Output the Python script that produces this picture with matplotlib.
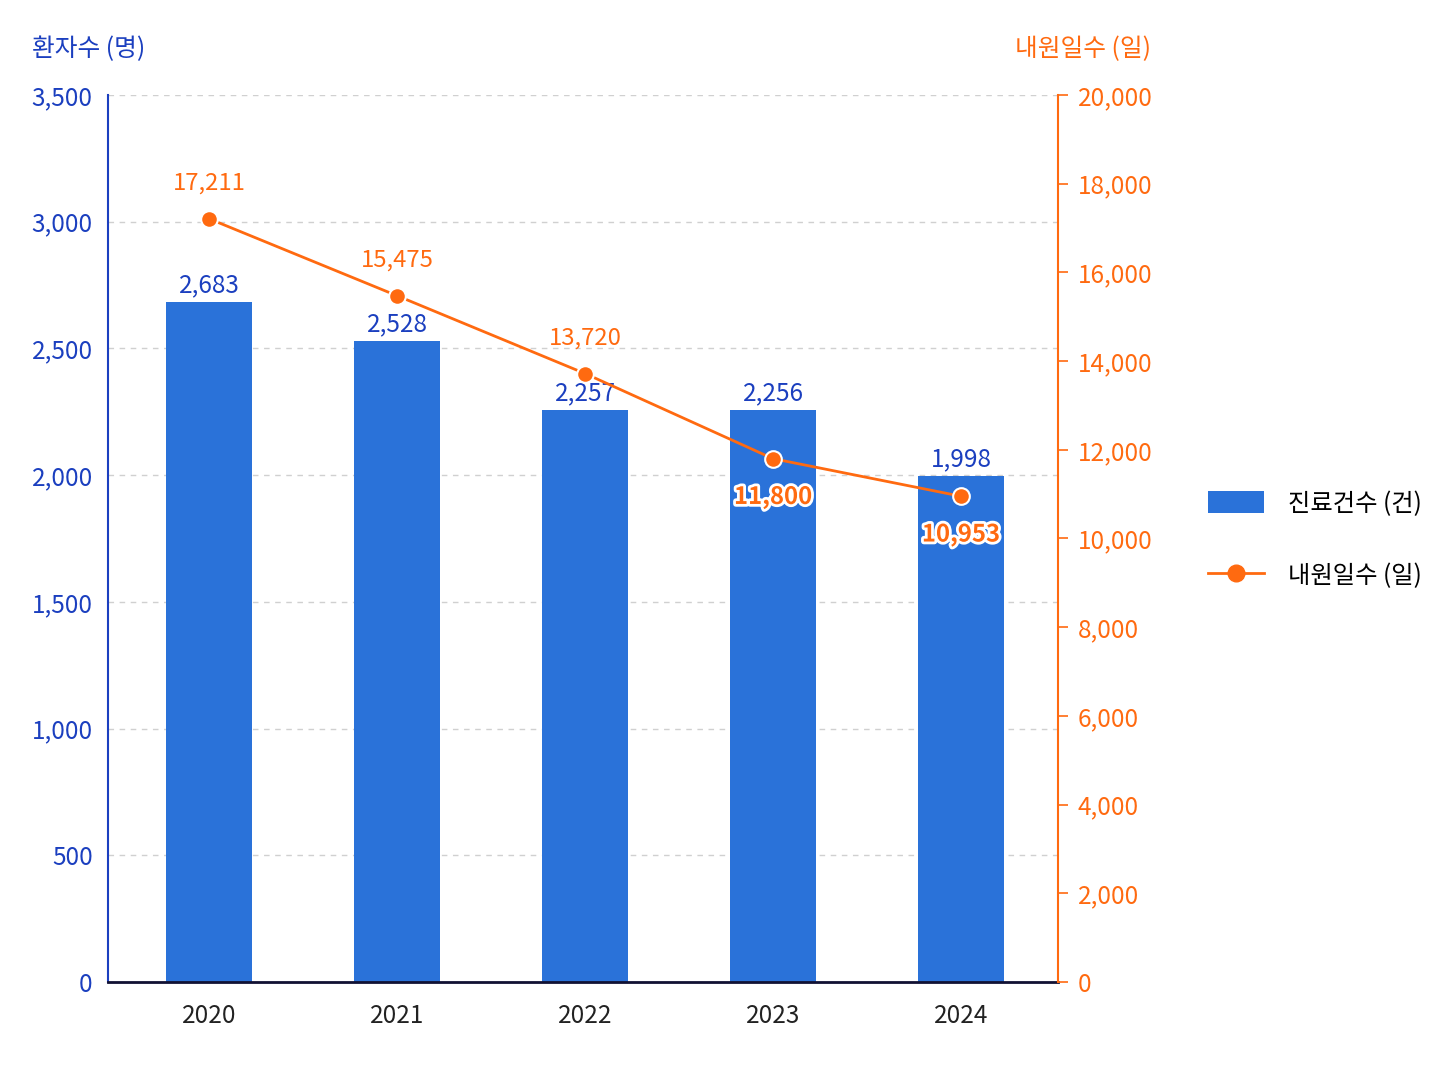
import matplotlib.pyplot as plt
import matplotlib.patheffects as pe
from matplotlib.lines import Line2D

plt.rcParams['font.family'] = ['Noto Sans CJK KR', 'DejaVu Sans']

years = ['2020', '2021', '2022', '2023', '2024']
cases = [2683, 2528, 2257, 2256, 1998]
days = [17211, 15475, 13720, 11800, 10953]

BLUE_BAR = '#2a72d9'
BLUE_TXT = '#1b3fbf'
ORANGE = '#ff6a10'

fig = plt.figure(figsize=(14.48, 10.86), dpi=100)
ax = fig.add_axes([0.0746, 0.0958, 0.6561, 0.8167])
ax2 = ax.twinx()

x = list(range(len(years)))
bars = ax.bar(x, cases, width=0.46, color=BLUE_BAR, zorder=2, label='진료건수 (건)')
ax.set_xlim(-0.537, 4.516)
ax.set_ylim(0, 3500)
ax.set_yticks(range(0, 3501, 500))
ax.set_yticklabels([f'{v:,}' for v in range(0, 3501, 500)])
ax.set_xticks(x)
ax.set_xticklabels(years)
ax.grid(axis='y', linestyle=(0, (4, 4)), color='#d0d0d0', linewidth=1)
ax.set_axisbelow(True)

for xi, v in zip(x, cases):
    ax.text(xi, v + 15, f'{v:,}', ha='center', va='bottom', color=BLUE_TXT, fontsize=17.5)

ax2.plot(x, days, color=ORANGE, linewidth=2, marker='o', markersize=12,
         markeredgecolor='white', markeredgewidth=1.5, zorder=5)
ax2.set_ylim(0, 20000)
ax2.set_yticks(range(0, 20001, 2000))
ax2.set_yticklabels([f'{v:,}' for v in range(0, 20001, 2000)])

for i, (xi, v) in enumerate(zip(x, days)):
    if i < 3:
        ax2.text(xi, v + 550, f'{v:,}', ha='center', va='bottom', color=ORANGE, fontsize=17.2)
    else:
        t = ax2.text(xi, v - 600, f'{v:,}', ha='center', va='top', color=ORANGE,
                     fontsize=17.2, fontweight='bold')
        t.set_path_effects([pe.withStroke(linewidth=4, foreground='white')])

ax.spines['top'].set_visible(False)
ax2.spines['top'].set_visible(False)
ax.spines['right'].set_visible(False)
ax2.spines['left'].set_visible(False)
ax2.spines['bottom'].set_visible(False)
ax.spines['left'].set_color(BLUE_TXT)
ax.spines['left'].set_linewidth(1.5)
ax2.spines['right'].set_color(ORANGE)
ax2.spines['right'].set_linewidth(1.5)
ax.spines['bottom'].set_color('#111133')
ax.spines['bottom'].set_linewidth(2)

ax.tick_params(axis='y', colors=BLUE_TXT, labelsize=17.5, length=0, pad=11)
ax.tick_params(axis='x', colors='#222222', labelsize=17.5, length=0, pad=15)
ax2.tick_params(axis='y', colors=ORANGE, labelsize=17.5, length=7, width=1.2, pad=7)

fig.text(0.022, 0.955, '환자수 (명)', color=BLUE_TXT, fontsize=17.8, ha='left', va='center')
fig.text(0.795, 0.955, '내원일수 (일)', color=ORANGE, fontsize=17.8, ha='right', va='center')

line_handle = Line2D([], [], color=ORANGE, linewidth=2, marker='o', markersize=12)
fig.legend([bars, line_handle], ['진료건수 (건)', '내원일수 (일)'], loc='center left',
           bbox_to_anchor=(0.819, 0.503), frameon=False, fontsize=17.5,
           handlelength=2.3, handleheight=1.0, labelspacing=1.9, handletextpad=1.0)

fig.savefig('out.png', dpi=100, facecolor='white')
